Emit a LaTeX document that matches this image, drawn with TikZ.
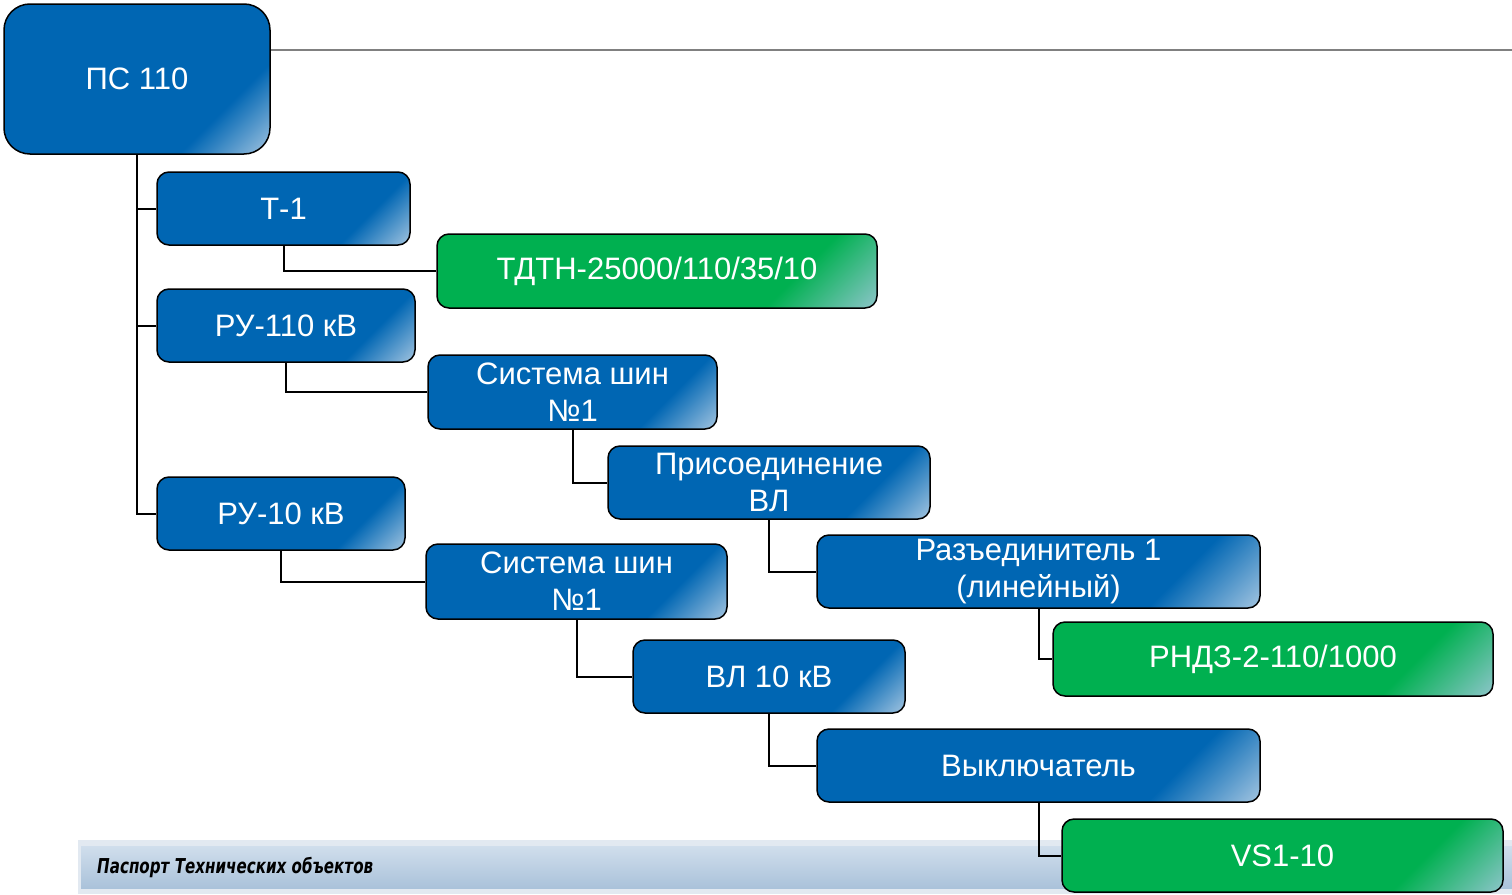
\documentclass[tikz,border=0pt]{standalone}
\usepackage{fontspec}
\setmainfont{Liberation Sans}
\newfontfamily\barfont{DejaVu Sans}
\usepackage{graphicx}
\definecolor{nblue}{RGB}{0,102,179}
\definecolor{nbluel}{RGB}{168,200,226}
\definecolor{ngreen}{RGB}{0,176,80}
\definecolor{ngreenl}{RGB}{146,198,206}
\definecolor{bartop}{RGB}{208,222,236}
\definecolor{barbot}{RGB}{170,194,218}
\definecolor{barhi}{RGB}{226,233,241}
\definecolor{linegray}{RGB}{128,128,128}
\pgfdeclarehorizontalshading{blueglow}{100bp}{color(0bp)=(nblue); color(70bp)=(nblue); color(86bp)=(nbluel); color(100bp)=(nbluel)}
\pgfdeclarehorizontalshading{greenglow}{100bp}{color(0bp)=(ngreen); color(70bp)=(ngreen); color(86bp)=(ngreenl); color(100bp)=(ngreenl)}
\tikzset{
  box/.style={draw=black, line width=1.5pt, rounded corners=12pt, text=white,
    font=\fontsize{31}{37}\selectfont, align=center, inner sep=0pt, shade, shading angle=-45},
  bluebox/.style={box, shading=blueglow},
  greenbox/.style={box, shading=greenglow},
  link/.style={draw=black, line width=2pt},
}
\begin{document}
\begin{tikzpicture}[x=1pt,y=-1pt]
\useasboundingbox (0,0) rectangle (1512,894);
% bottom bar
\fill[barhi] (78,840) rectangle (1512,894);
\shade[top color=bartop, bottom color=barbot] (81,846) rectangle (1512,888);
\node[anchor=base west, inner sep=0pt] (bartext) at (97,873)
  {\resizebox{276pt}{\height}{\barfont\fontsize{20.5}{24}\selectfont\bfseries\itshape Паспорт Технических объектов}};
% nodes
\node[bluebox, minimum width=266pt, minimum height=150pt, rounded corners=26pt] (ps) at (137,79) {ПС 110};
\node[bluebox, minimum width=253pt, minimum height=73pt] (t1) at (283.5,208.5) {Т-1};
\node[greenbox, minimum width=440pt, minimum height=74pt] (tdtn) at (657,271) {ТДТН-25000/110/35/10};
\node[bluebox, minimum width=258pt, minimum height=73pt] (ru110) at (286,325.5) {РУ-110 кВ};
\node[bluebox, minimum width=289pt, minimum height=74pt] (ss1) at (572.5,392) {Система шин\\№1};
\node[bluebox, minimum width=322pt, minimum height=73pt] (pris) at (769,482.5) {Присоединение\\ВЛ};
\node[bluebox, minimum width=248pt, minimum height=73pt] (ru10) at (281,513.5) {РУ-10 кВ};
\node[bluebox, minimum width=443pt, minimum height=73pt] (raz) at (1038.5,571.5) {Разъединитель 1\\(линейный)};
\node[bluebox, minimum width=301pt, minimum height=75pt] (ss2) at (576.5,581.5) {Система шин\\№1};
\node[greenbox, minimum width=440pt, minimum height=74pt] (rndz) at (1273,659) {РНДЗ-2-110/1000};
\node[bluebox, minimum width=272pt, minimum height=73pt] (vl10) at (769,676.5) {ВЛ 10 кВ};
\node[bluebox, minimum width=443pt, minimum height=73pt] (vykl) at (1038.5,765.5) {Выключатель};
\node[greenbox, minimum width=441pt, minimum height=73pt] (vs) at (1282.5,855.5) {VS1-10};
% gray line
\coordinate (lineend) at (1512,50);
\draw[linegray, line width=1.5pt] (ps.east |- lineend) -- (lineend);
% trunk
\draw[link] (ps.south) -- (ps.south |- ru10.west) -- (ru10.west);
\draw[link] (ps.south |- t1.west) -- (t1.west);
\draw[link] (ps.south |- ru110.west) -- (ru110.west);
% elbows
\draw[link] (t1.south) |- (tdtn.west);
\draw[link] (ru110.south) |- (ss1.west);
\draw[link] (ss1.south) |- (pris.west);
\draw[link] (pris.south) |- (raz.west);
\draw[link] (raz.south) |- (rndz.west);
\draw[link] (ru10.south) |- (ss2.west);
\draw[link] (ss2.south) |- (vl10.west);
\draw[link] (vl10.south) |- (vykl.west);
\draw[link] (vykl.south) |- (vs.west);
\end{tikzpicture}
\end{document}
